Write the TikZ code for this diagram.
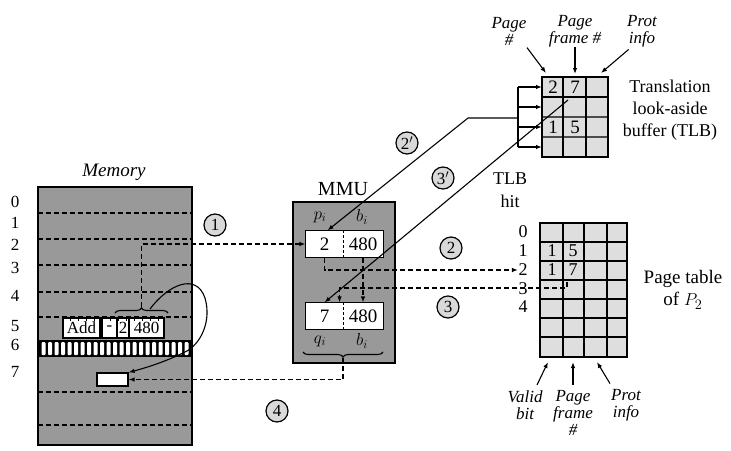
\documentclass[tikz,border=0pt]{standalone}
\usepackage{fontspec}
\setmainfont{Liberation Serif}
\usetikzlibrary{arrows.meta,decorations.pathreplacing,calc}

\definecolor{memgray}{gray}{0.6}
\definecolor{cellgray}{gray}{0.87}
\definecolor{stepgray}{gray}{0.85}

\newcommand*{\memL}{38}
\newcommand*{\memR}{192}
\newcommand*{\tlbL}{542}
\newcommand*{\tlbR}{608}
\newcommand*{\ptL}{540}
\newcommand*{\ptR}{627}

\begin{document}
\begin{tikzpicture}
[
	x=1pt, y=-1pt,
	>={Latex[length=6pt,width=4.5pt]},
	lbl/.style={inner sep=0pt,font=\fontsize{18}{22}\selectfont,align=center},
	itl/.style={inner sep=0pt,align=center,font=\fontsize{17}{17}\selectfont\itshape},
	rowno/.style={inner sep=0pt,font=\fontsize{17}{17}\selectfont},
	stepno/.style={circle,draw,line width=1.2pt,fill=stepgray,minimum size=22pt,inner sep=0pt,font=\fontsize{17}{17}\selectfont},
	fld/.style={fill=white,inner sep=0pt,minimum height=26pt,font=\fontsize{19}{19}\selectfont},
	instr/.style={draw,fill=white,inner sep=0pt,minimum height=20pt,font=\fontsize{17}{17}\selectfont},
	dsh/.style={dash pattern=on 5pt off 3pt,line width=1.3pt},
	box/.style={draw,line width=1.5pt,inner sep=0pt},
	line width=1.1pt
]
	\useasboundingbox (0,0) rectangle (731,450);

	% memory
	\node[box,fill=memgray,minimum width=154pt,minimum height=258pt] (mem) at (115,316) {};
	\node[lbl,font=\fontsize{19}{19}\selectfont\itshape] (memlbl) at (114,172) {Memory};
	\foreach \y in {213,239,265,292,317,392,425}
		\draw[dsh] (\memL,\y) -- (\memR,\y);
	\foreach \n/\y in {0/202,1/223,2/245,3/268,4/296,5/326,6/345,7/372}
		\node[rowno] (m\n) at (15,\y) {\n};

	% instruction in row 5
	\node[instr,minimum width=37pt] (add) at (81.5,328) {Add};
	\node[instr,minimum width=15pt] (op) at (109.5,328) {-};
	\node[instr,minimum width=11pt] (pg) at (123,328) {2};
	\node[instr,minimum width=35pt] (off) at (146.5,328) {480};
	\foreach \x in {70,78,...,162}
		\draw[line width=0.7pt] (\x,318) -- (\x,321);
	\draw[decorate,decoration={brace,amplitude=5pt}] (115,313) -- (168,313);
	\coordinate (btip) at (141.5,307);

	% row 6
	\fill[black] (\memL,340) rectangle (\memR,357);
	\foreach \i in {0,...,22}
		\fill[white,rounded corners=1pt] ({41.5+6.5*\i},342) rectangle ({45.5+6.5*\i},355);

	% row 7 target
	\node[draw,line width=1.2pt,fill=white,minimum width=31pt,minimum height=13pt,inner sep=0pt] (m7box) at (112.5,379.5) {};
	\draw[->] (150,309) .. controls (168,285) and (196,272) .. (205,298)
		.. controls (212,322) and (200,345) .. (185,352)
		.. controls (165,362) and (145,368) .. (m7box.north east);

	% MMU
	\node[box,fill=memgray,minimum width=102pt,minimum height=161pt] (mmu) at (344,282.5) {};
	\node[lbl,font=\fontsize{20}{20}\selectfont] (mmulbl) at (343,189) {MMU};
	\node[lbl] (plbl) at (320,217) {$p_i$};
	\node[lbl] (blbl) at (362,217) {$b_i$};
	\node[fld,minimum width=37pt] (p1) at (324.5,244) {2};
	\node[fld,minimum width=40pt] (b1) at (363,244) {480};
	\draw[line width=1.5pt] (p1.north west) rectangle (b1.south east);
	\draw[dash pattern=on 3pt off 2pt,line width=1.3pt] (p1.north east) -- (p1.south east);
	\node[fld,minimum width=37pt] (q1) at (324.5,316) {7};
	\node[fld,minimum width=40pt] (b2) at (363,316) {480};
	\draw[line width=1.5pt] (q1.north west) rectangle (b2.south east);
	\draw[dash pattern=on 3pt off 2pt,line width=1.3pt] (q1.north east) -- (q1.south east);
	\node[lbl] (qlbl) at (320,341) {$q_i$};
	\node[lbl] (blbl2) at (362,341) {$b_i$};
	\draw[decorate,decoration={brace,amplitude=5pt}] (383,352) -- (303,352);
	\coordinate (qtip) at (343,358);

	% TLB
	\fill[cellgray] (\tlbL,77) rectangle (\tlbR,157);
	\draw[gray!60!black,line width=1.4pt] (\tlbL,117) -- (\tlbR,117);
	\draw[gray!60!black,line width=1.4pt] (\tlbL,137) -- (\tlbR,137);
	\draw[line width=1.4pt] (\tlbL,97) -- (\tlbR,97);
	\draw[line width=1.4pt] (563,77) -- (563,157);
	\draw[line width=1.4pt] (586,77) -- (586,157);
	\draw[line width=1.5pt] (\tlbL,77) rectangle (\tlbR,157);
	\node[fld,fill=none,minimum height=0pt] (t2) at (553,87) {2};
	\node[fld,fill=none,minimum height=0pt] (t7) at (575,87) {7};
	\node[fld,fill=none,minimum height=0pt] (t1) at (553,127) {1};
	\node[fld,fill=none,minimum height=0pt] (t5) at (575,127) {5};
	\draw[line width=1.3pt] (518,87) -- (518,147);
	\foreach \y in {87,107,127,147}
		\draw[->,line width=1.3pt] (518,\y) -- (\tlbL,\y);
	\coordinate (bk) at (518,118);
	\coordinate (kn) at (468,118);
	\coordinate (hit) at (568,100);
	\node[lbl] (tlblbl) at (670,110) {Translation\\look-aside\\buffer (TLB)};
	\node[lbl,font=\fontsize{18}{23}\selectfont] (hitlbl) at (510,190) {TLB\\hit};

	% TLB column labels
	\node[itl] (hpg) at (509,31) {Page\\\#};
	\node[itl] (hfr) at (575,31) {Page\\frame \#};
	\node[itl] (hpr) at (642,31) {Prot\\info};
	\coordinate (apg) at (546,73);
	\coordinate (afr) at (575,74);
	\coordinate (apr) at (601,73);
	\draw[->] ($(hpg.south east)+(0,2)$) -- (apg);
	\draw[->] (hfr.south) -- (afr);
	\draw[->] ($(hpr.south west)+(2,2)$) -- (apr);

	% page table
	\fill[cellgray] (\ptL,223) rectangle (\ptR,357);
	\foreach \y in {242,261,280,299,318,337}
		\draw[line width=1.4pt] (\ptL,\y) -- (\ptR,\y);
	\foreach \x in {563,584,607}
		\draw[line width=1.4pt] (\x,223) -- (\x,357);
	\draw[line width=1.5pt] (\ptL,223) rectangle (\ptR,357);
	\foreach \n/\y in {0/232,1/251,2/270,3/289,4/307}
		\node[lbl] (pt\n) at (523,\y) {\n};
	\node[lbl] (v1) at (552,251) {1};
	\node[lbl] (f1) at (573,251) {5};
	\node[lbl] (v2) at (552,270) {1};
	\node[lbl] (f2) at (573,270) {7};
	\coordinate (pf7) at (567,282);
	\node[lbl,font=\fontsize{19}{22}\selectfont] (ptlbl) at (683,290) {Page table\\of $P_2$};

	% page table column labels
	\node[itl] (bv) at (525,405) {Valid\\bit};
	\node[itl] (bf) at (573,413) {Page\\frame\\\#};
	\node[itl] (bp) at (626,405) {Prot\\info};
	\coordinate (av) at (548,362);
	\coordinate (af) at (573,362);
	\coordinate (ap) at (597,362);
	\draw[->] ($(bv.north)+(12,-5)$) -- (av);
	\draw[->] ($(bf.north)+(0,-5)$) -- (af);
	\draw[->] ($(bp.north)+(-16,-5)$) -- (ap);

	% steps
	\node[stepno] (s1) at (215,225) {1};
	\node[stepno] (s2p) at (407,143) {2$'$};
	\node[stepno] (s3p) at (443,178) {3$'$};
	\node[stepno] (s2) at (451,248) {2};
	\node[stepno] (s3) at (448,307) {3};
	\node[stepno] (s4) at (277,411) {4};

	% address translation paths
	\draw[dsh,->] (btip) |- (p1.west);
	\draw[dsh,->] (p1.south) |- (pt2.west);
	\draw[dsh,->] (pf7) -- ++(0,6) -| ($(q1.north east)+(-4,0)$);
	\draw[dsh,->] (b1.south) -- (b2.north);
	\draw[dsh,->] (qtip) |- (m7box.east);
	\draw[->] (bk) -- (kn) -- ($(p1.north)+(3,0)$);
	\draw[->] (hit) -- (q1.north);

\end{tikzpicture}
\end{document}
